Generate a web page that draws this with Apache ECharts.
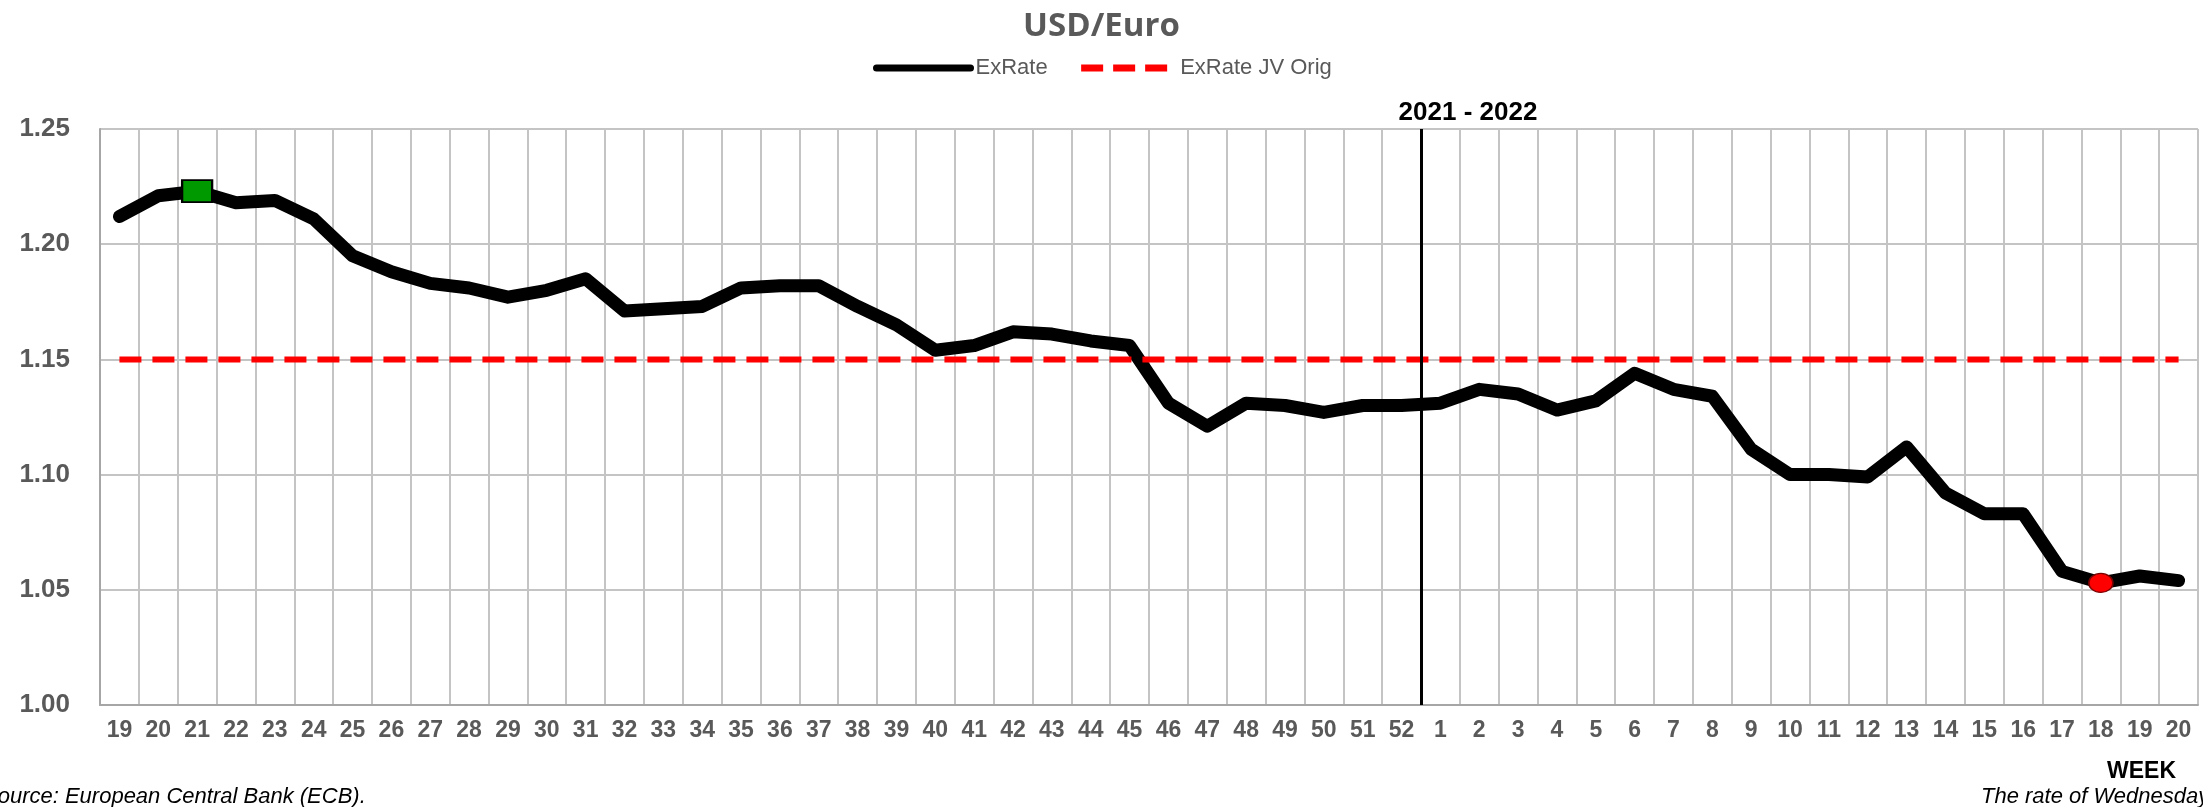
<!DOCTYPE html>
<html>
<head>
<meta charset="utf-8">
<title>USD/Euro</title>
<script src="https://cdn.jsdelivr.net/npm/echarts@6/dist/echarts.min.js"></script>
<style>
  html, body { margin: 0; padding: 0; background: #fff; }
  #chart { width: 2203px; height: 807px; }
</style>
</head>
<body>
<div id="chart"></div>
<script>
// week labels, two years
const weeks2021 = ['19', '20', '21', '22', '23', '24', '25', '26', '27', '28', '29', '30',
  '31', '32', '33', '34', '35', '36', '37', '38', '39', '40', '41', '42', '43', '44',
  '45', '46', '47', '48', '49', '50', '51', '52']
const weeks2022 = ['1', '2', '3', '4', '5', '6', '7', '8', '9', '10', '11', '12', '13',
  '14', '15', '16', '17', '18', '19', '20']

// USD per Euro, rate of Wednesday
const exRate2021 = [1.212, 1.221, 1.223, 1.218, 1.219, 1.211, 1.195, 1.188, 1.183, 1.181,
  1.177, 1.180, 1.185, 1.171, 1.172, 1.173, 1.181, 1.182, 1.182, 1.173, 1.165, 1.154,
  1.156, 1.162, 1.161, 1.158, 1.156, 1.131, 1.121, 1.131, 1.130, 1.127, 1.130, 1.130]
const exRate2022 = [1.131, 1.137, 1.135, 1.128, 1.132, 1.144, 1.137, 1.134, 1.111, 1.100,
  1.100, 1.099, 1.112, 1.092, 1.083, 1.083, 1.058, 1.053, 1.056, 1.054]

const jvOrigRate = 1.15
const yTicks = [1.00, 1.05, 1.10, 1.15, 1.20, 1.25]

const categories = weeks2021.concat(weeks2022)
const exRate = exRate2021.concat(exRate2022)
const jvOrig = categories.map(() => jvOrigRate)

const labelGrey = '#595959'
const gridGrey = '#c4c4c4'
const axisFont = 'Liberation Sans, Arial, sans-serif'

const chart = echarts.init(document.getElementById('chart'))

const option = {
  animation: false,
  backgroundColor: '#fff',
  title: {
    text: 'USD/Euro',
    left: 'center',
    top: 5,
    textStyle: {
      color: labelGrey,
      fontFamily: 'Open Sans, sans-serif',
      fontWeight: 'bold',
      fontSize: 33
    }
  },
  legend: {
    left: 868,
    top: 52,
    itemWidth: 94,
    itemHeight: 2,
    itemGap: 30,
    textStyle: {
      color: labelGrey,
      fontFamily: axisFont,
      fontSize: 22
    },
    data: [
      { name: 'ExRate', lineStyle: { width: 7, cap: 'round' } },
      { name: 'ExRate JV Orig', lineStyle: { width: 7, type: [22, 10] } }
    ]
  },
  grid: {
    left: 100,
    right: 5,
    top: 129,
    bottom: 102
  },
  xAxis: [
    {
      type: 'category',
      data: categories,
      boundaryGap: true,
      axisTick: { show: false },
      axisLine: { lineStyle: { color: '#a6a6a6', width: 2 } },
      axisLabel: {
        interval: 0,
        margin: 14,
        color: labelGrey,
        fontFamily: axisFont,
        fontWeight: 'bold',
        fontSize: 23
      },
      splitLine: { show: true, interval: 0, lineStyle: { color: gridGrey, width: 2 } }
    },
    {
      // helper axis so the year break sits on the boundary between weeks
      type: 'value',
      min: 0,
      max: categories.length,
      show: false
    }
  ],
  yAxis: {
    type: 'value',
    min: yTicks[0],
    max: yTicks[yTicks.length - 1],
    interval: 0.05,
    axisLine: { show: true, lineStyle: { color: '#a6a6a6', width: 2 } },
    axisTick: { show: false },
    axisLabel: {
      margin: 30,
      color: labelGrey,
      fontFamily: axisFont,
      fontWeight: 'bold',
      fontSize: 26,
      formatter: (v) => v.toFixed(2)
    },
    splitLine: { lineStyle: { color: gridGrey, width: 2 } }
  },
  series: [
    {
      name: 'yearBreak',
      type: 'line',
      xAxisIndex: 1,
      data: [],
      z: 1,
      markLine: {
        silent: true,
        symbol: 'none',
        lineStyle: { color: '#000', width: 3, type: 'solid' },
        label: {
          show: true,
          position: 'end',
          distance: 3,
          padding: [0, 0, 0, 94],
          formatter: '2021 - 2022',
          color: '#000',
          fontFamily: axisFont,
          fontWeight: 'bold',
          fontSize: 26
        },
        data: [{ xAxis: weeks2021.length }]
      }
    },
    {
      name: 'ExRate',
      type: 'line',
      data: exRate,
      symbol: 'none',
      z: 3,
      lineStyle: { color: '#000', width: 13, cap: 'round', join: 'round' },
      itemStyle: { color: '#000' },
      markPoint: {
        silent: true,
        label: { show: false },
        data: [
          {
            type: 'max',
            symbol: 'rect',
            symbolSize: [30, 22],
            itemStyle: { color: '#009a00', borderColor: '#000', borderWidth: 2 }
          },
          {
            type: 'min',
            symbol: 'circle',
            symbolSize: [24, 19],
            itemStyle: { color: '#ff0000', borderColor: '#7a0000', borderWidth: 1.5 }
          }
        ]
      }
    },
    {
      name: 'ExRate JV Orig',
      type: 'line',
      data: jvOrig,
      symbol: 'none',
      z: 4,
      lineStyle: { color: '#ff0000', width: 6, type: [22, 11] },
      itemStyle: { color: '#ff0000' }
    }
  ],
  graphic: [
    {
      type: 'text',
      left: 2107,
      top: 760,
      style: {
        text: 'WEEK',
        fill: '#000',
        font: 'bold 23px Liberation Sans, Arial, sans-serif'
      }
    },
    {
      type: 'text',
      left: -17,
      top: 786,
      style: {
        text: 'Source: European Central Bank (ECB).',
        fill: '#000',
        font: 'italic 22px Liberation Sans, Arial, sans-serif'
      }
    },
    {
      type: 'text',
      left: 1981,
      top: 786,
      style: {
        text: 'The rate of Wednesday',
        fill: '#000',
        font: 'italic 22px Liberation Sans, Arial, sans-serif'
      }
    }
  ]
}

chart.setOption(option)
</script>
</body>
</html>
